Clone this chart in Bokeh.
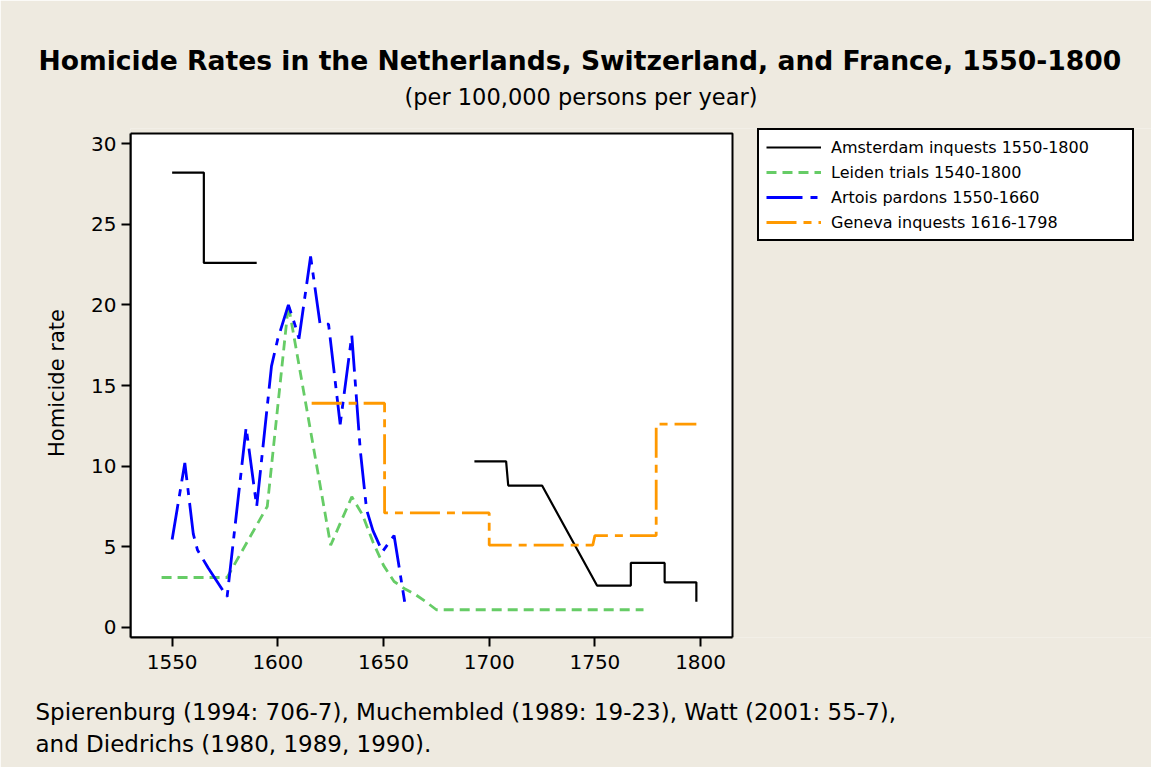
import math
from bokeh.plotting import figure
from bokeh.models import Range1d, FixedTicker, Legend, LegendItem, Title, BoxAnnotation
from bokeh.embed import file_html
from bokeh.resources import INLINE

NaN = float("nan")

# ---- data ----
amsterdam_years = [1550, 1565, 1565, 1590, NaN, 1693, 1708, 1709, 1725, 1751, 1767, 1767, 1783, 1783, 1798, 1798]
amsterdam_rates = [28.2, 28.2, 22.6, 22.6, NaN, 10.3, 10.3, 8.8, 8.8, 2.6, 2.6, 4.0, 4.0, 2.8, 2.8, 1.6]

leiden_years = [1545, 1576, 1595, 1605, 1625, 1635, 1640, 1645, 1650, 1655, 1660, 1665, 1670, 1675, 1773]
leiden_rates = [3.1, 3.1, 7.5, 20.0, 5.1, 8.1, 7.0, 5.3, 3.85, 2.85, 2.4, 2.05, 1.6, 1.1, 1.1]

artois_years = [1550, 1556, 1560, 1562, 1567, 1576, 1585, 1590, 1597, 1600, 1605, 1608, 1610,
                1615.5, 1620, 1624, 1629.5, 1635, 1639, 1642, 1645, 1649.5, 1655, 1660]
artois_rates = [5.45, 10.2, 5.8, 4.8, 3.7, 1.9, 12.4, 7.5, 16.2, 17.9, 20.0, 18.8, 17.9,
                23.0, 18.8, 18.8, 12.6, 18.1, 11.0, 7.3, 6.0, 4.7, 5.7, 1.6]

geneva_years = [1616, 1650.5, 1650.5, 1700, 1700, 1749, 1750, 1779, 1779, 1798]
geneva_rates = [13.9, 13.9, 7.1, 7.1, 5.1, 5.1, 5.7, 5.7, 12.6, 12.6]

series_labels = ["Amsterdam inquests 1550-1800", "Leiden trials 1540-1800",
                 "Artois pardons 1550-1660", "Geneva inquests 1616-1798"]

x_ticks = [1550, 1600, 1650, 1700, 1750, 1800]
x_tick_labels = ["1550", "1600", "1650", "1700", "1750", "1800"]
y_ticks = [0, 5, 10, 15, 20, 25, 30]
y_tick_labels = ["0", "5", "10", "15", "20", "25", "30"]

title_text = "Homicide Rates in the Netherlands, Switzerland, and France, 1550-1800"
subtitle_text = "(per 100,000 persons per year)"
y_title = "Homicide rate"
footer1 = "Spierenburg (1994: 706-7), Muchembled (1989: 19-23), Watt (2001: 55-7),"
footer2 = "and Diedrichs (1980, 1989, 1990)."

FONT = "DejaVu Sans"
BG = "#EEEAE0"

# plot-area box (data extent) and the wider frame that also holds the legend
X_LO, X_BOX_HI = 1530.3, 1815.1
Y_LO, Y_BOX_HI = -0.62, 30.62
PX_PER_YEAR = 602 / (X_BOX_HI - X_LO)
PX_PER_UNIT = 504 / (Y_BOX_HI - Y_LO)
X_FRAME_HI = X_LO + 1021 / PX_PER_YEAR
Y_FRAME_HI = Y_BOX_HI + 5 / PX_PER_UNIT

p = figure(width=1151, height=767, output_backend="svg", toolbar_location=None,
           x_range=Range1d(X_LO, X_FRAME_HI), y_range=Range1d(Y_LO, Y_FRAME_HI),
           min_border_left=130, min_border_right=0, min_border_top=128, min_border_bottom=130)
p.background_fill_color = BG
p.border_fill_color = BG
p.outline_line_color = None
p.grid.visible = False

p.add_layout(BoxAnnotation(left=X_LO, right=X_BOX_HI, bottom=Y_LO, top=Y_BOX_HI,
                           fill_color="white", fill_alpha=1, line_color="black", line_width=2,
                           line_alpha=1, level="underlay"))

for ax in (p.xaxis[0], p.yaxis[0]):
    ax.axis_line_color = "black"
    ax.axis_line_width = 2
    ax.major_tick_line_color = "black"
    ax.major_tick_line_width = 2
    ax.major_tick_in = 0
    ax.major_tick_out = 9
    ax.minor_tick_line_color = None
    ax.major_label_text_font = FONT
    ax.major_label_text_font_size = "20px"
    ax.major_label_text_color = "black"

p.xaxis.bounds = (X_LO, X_BOX_HI)
p.xaxis.ticker = FixedTicker(ticks=x_ticks)
p.xaxis.major_label_overrides = dict(zip(x_ticks, x_tick_labels))
p.xaxis.major_label_standoff = 8
p.yaxis.bounds = (Y_LO, Y_BOX_HI)
p.yaxis.ticker = FixedTicker(ticks=y_ticks)
p.yaxis.major_label_overrides = dict(zip(y_ticks, y_tick_labels))
p.yaxis.major_label_standoff = 5
p.yaxis.axis_label = y_title
p.yaxis.axis_label_text_font = FONT
p.yaxis.axis_label_text_font_size = "21px"
p.yaxis.axis_label_text_font_style = "normal"
p.yaxis.axis_label_text_color = "black"
p.yaxis.axis_label_standoff = 19

r_ams = p.line(amsterdam_years, amsterdam_rates, line_color="black", line_width=2.2)
r_lei = p.line(leiden_years, leiden_rates, line_color="#66CC66", line_width=2.8, line_dash="10 6")
r_art = p.line(artois_years, artois_rates, line_color="#0000FF", line_width=2.8, line_dash="36 8 7 8")
r_gen = p.line(geneva_years, geneva_rates, line_color="#FF9900", line_width=2.8, line_dash="30 7 8 7")

legend = Legend(items=[LegendItem(label=lab, renderers=[r]) for lab, r in
                       zip(series_labels, [r_ams, r_lei, r_art, r_gen])],
                location=(627, 396))
legend.border_line_color = "black"
legend.border_line_alpha = 1
legend.border_line_width = 2
legend.background_fill_color = "white"
legend.background_fill_alpha = 1
legend.label_text_font = FONT
legend.label_text_font_size = "16px"
legend.label_text_color = "black"
legend.glyph_width = 55
legend.glyph_height = 20
legend.label_height = 20
legend.label_width = 294
legend.spacing = 5
legend.padding = 7
legend.margin = 0
legend.label_standoff = 10
p.add_layout(legend)


def spacer(st):
    return Title(text=" ", text_font_size="8px", standoff=st, text_color=BG)


# above: first added is nearest the frame
p.add_layout(spacer(0.5), "above")
p.add_layout(Title(text=subtitle_text, text_font=FONT, text_font_size="22.5px", text_font_style="normal",
                   text_color="black", align="left", offset=274, vertical_align="bottom", standoff=13.4), "above")
p.add_layout(Title(text=title_text, text_font=FONT, text_font_size="26.6px", text_font_style="bold",
                   text_color="black", align="left", offset=-92, vertical_align="bottom", standoff=0), "above")

# below: after the x axis
p.add_layout(spacer(11.6), "below")
p.add_layout(Title(text=footer1, text_font=FONT, text_font_size="23px", text_font_style="normal",
                   text_color="black", align="left", offset=-95, vertical_align="top", standoff=8.4), "below")
p.add_layout(Title(text=footer2, text_font=FONT, text_font_size="23px", text_font_style="normal",
                   text_color="black", align="left", offset=-95, vertical_align="top", standoff=0), "below")

open("out.html", "w").write(file_html(p, INLINE))
